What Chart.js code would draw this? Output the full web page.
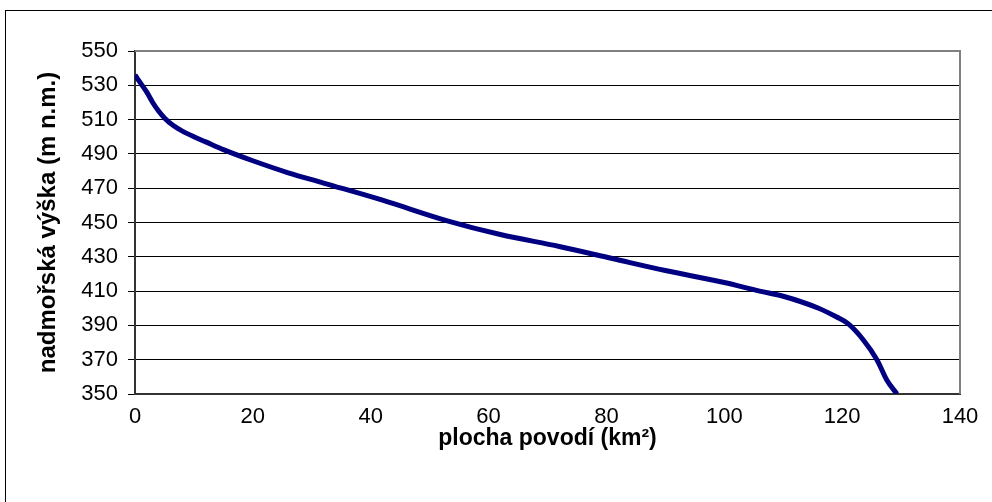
<!DOCTYPE html>
<html>
<head>
<meta charset="utf-8">
<script src="https://cdn.jsdelivr.net/npm/chart.js@4"></script>
<style>
  html, body { margin: 0; padding: 0; background: #fff; }
  #wrap { width: 992px; height: 502px; position: relative; }
</style>
</head>
<body>
<div id="wrap"><canvas id="ch-hypso"></canvas></div>
<script>
// hypsometric curve – area (km2) vs elevation (m n.m.)
const areaKm2   = [0, 1, 2, 3, 4, 5, 6.5, 8.2, 10, 12, 15, 20, 26, 32, 42, 53, 62, 72, 81, 90, 100, 106, 110, 116, 119, 121, 123.6, 125.9, 127.6, 129.3];
const elevation = [536, 531, 526, 520, 515, 511, 506.5, 503, 500, 497, 492.5, 486, 479, 473, 463, 451, 443, 436, 429, 422, 415, 410, 407, 400, 395, 391, 381.5, 370, 358, 350];
const xTicks = [0, 20, 40, 60, 80, 100, 120, 140];
const yTicks = [350, 370, 390, 410, 430, 450, 470, 490, 510, 530, 550];

const FONT = '"Liberation Sans", Arial, sans-serif';

// outer frame + grey top/right edge of the plot area
const framePlugin = {
  id: 'frame',
  beforeDraw(chart) {
    const c = chart.ctx;
    c.save();
    c.fillStyle = '#fff';
    c.fillRect(0, 0, chart.width, chart.height);
    c.strokeStyle = '#000';
    c.lineWidth = 1;
    c.strokeRect(5.5, 10.5, chart.width + 10, chart.height + 10);
    c.restore();
  },
  afterDatasetsDraw(chart) {
    const a = chart.chartArea, c = chart.ctx;
    c.save();
    c.strokeStyle = '#808080';
    c.lineWidth = 2;
    c.beginPath();
    c.moveTo(a.left, a.top);
    c.lineTo(a.right, a.top);
    c.lineTo(a.right, a.bottom);
    c.stroke();
    c.restore();
  }
};

new Chart(document.getElementById('ch-hypso'), {
  type: 'scatter',
  data: {
    datasets: [{
      data: areaKm2.map((x, i) => ({ x, y: elevation[i] })),
      showLine: true,
      borderColor: '#000080',
      backgroundColor: '#000080',
      borderWidth: 5,
      pointRadius: 0,
      cubicInterpolationMode: 'monotone'
    }]
  },
  options: {
    responsive: true,
    maintainAspectRatio: false,
    animation: false,
    layout: { padding: { left: 0, top: 51, right: 32, bottom: 0 } },
    plugins: { legend: { display: false }, tooltip: { enabled: false } },
    scales: {
      x: {
        type: 'linear',
        min: 0, max: 140,
        afterBuildTicks: s => { s.ticks = xTicks.map(v => ({ value: v })); },
        afterFit: s => { s.height = 108; },
        grid: { display: false, drawOnChartArea: false, tickLength: 7, tickColor: '#000' },
        border: { color: '#333', width: 2 },
        ticks: { color: '#000', font: { family: FONT, size: 22 }, padding: 3, maxRotation: 0 },
        title: {
          display: true,
          text: 'plocha povodí (km²)',
          color: '#000',
          font: { family: FONT, size: 23, weight: 'bold' },
          padding: { top: 0, bottom: 50 }
        }
      },
      y: {
        type: 'linear',
        min: 350, max: 550,
        afterBuildTicks: s => { s.ticks = yTicks.map(v => ({ value: v })); },
        afterFit: s => { s.width = 135; },
        grid: { color: '#000', lineWidth: 1, tickLength: 7, tickColor: '#000' },
        border: { color: '#333', width: 2 },
        ticks: { color: '#000', font: { family: FONT, size: 22 }, padding: 10 },
        title: {
          display: true,
          text: 'nadmořská výška (m n.m.)',
          color: '#000',
          font: { family: FONT, size: 24, weight: 'bold' },
          padding: { top: 34, bottom: 0 }
        }
      }
    }
  },
  plugins: [framePlugin]
});
</script>
</body>
</html>
